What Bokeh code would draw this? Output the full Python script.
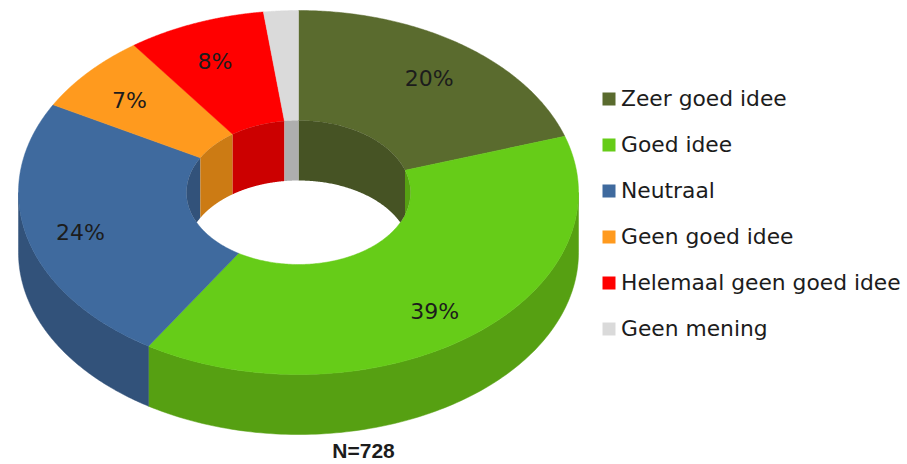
import numpy as np
from bokeh.plotting import figure
from bokeh.embed import file_html
from bokeh.resources import INLINE
from bokeh.core.properties import value
from bokeh.models import ColumnDataSource, Range1d

categories = ["Zeer goed idee", "Goed idee", "Neutraal", "Geen goed idee",
              "Helemaal geen goed idee", "Geen mening"]
shares = [20, 39, 24, 7, 8, 2]
labels = ["20%", "39%", "24%", "7%", "8%", ""]
top_colors = ["#5A6B2E", "#66CC18", "#3F6A9E", "#FF9A1E", "#FF0000", "#DADADA"]
wall_colors = ["#465324", "#56A012", "#32527A", "#CC7B14", "#CC0000", "#AEAEAE"]
footer = "N=728"

W, H = 907, 464
CX, CY = 298, 192          # pie centre
RX, RY = 280, 182          # outer ellipse
IX, IY = 112, 72           # hole ellipse
DEPTH = 60
LABEL_R = 0.80
LABEL_DY = 4
LEG_X, LEG_Y, LEG_STEP = 608.5, 98.5, 46

p = figure(width=W, height=H, output_backend="svg", toolbar_location=None,
           x_range=Range1d(0, W), y_range=Range1d(H, 0), min_border=0,
           outline_line_color=None, background_fill_color="white", border_fill_color="white")
p.axis.visible = False
p.grid.visible = False


def arc(t, rx, ry, dy=0.0):
    r = np.radians(t)
    return CX + rx * np.sin(r), CY - ry * np.cos(r) + dy


edges = np.concatenate([[0], np.cumsum(shares)]) * 360.0 / sum(shares)

# outer wall (front half), then the top faces, then the hole's far wall
wx, wy, wc = [], [], []
for i in range(len(shares)):
    a, b = max(edges[i], 90), min(edges[i + 1], 270)
    if b > a:
        t = np.linspace(a, b, 120)
        x, y = arc(t, RX, RY)
        wx.append(np.r_[x, x[::-1]].tolist())
        wy.append(np.r_[y, (y + DEPTH)[::-1]].tolist())
        wc.append(wall_colors[i])
p.patches(wx, wy, fill_color=wc, line_color=wc, line_width=0.5)

tx, ty, tc = [], [], []
for i in range(len(shares)):
    t = np.linspace(edges[i], edges[i + 1], 160)
    ox, oy = arc(t, RX, RY)
    ix, iy = arc(t, IX, IY)
    tx.append(np.r_[ox, ix[::-1]].tolist())
    ty.append(np.r_[oy, iy[::-1]].tolist())
    tc.append(top_colors[i])
p.patches(tx, ty, fill_color=tc, line_color=tc, line_width=0.5)

hx, hy, hc = [], [], []
for i in range(len(shares)):
    for shift in (0, -360):
        a, b = max(edges[i] + shift, -90), min(edges[i + 1] + shift, 90)
        if b > a:
            t = np.linspace(a, b, 120)
            x, y = arc(t, IX, IY)
            floor = CY + IY * np.sqrt(np.clip(1 - ((x - CX) / IX) ** 2, 0, 1))
            low = np.minimum(y + DEPTH, floor)
            hx.append(np.r_[x, x[::-1]].tolist())
            hy.append(np.r_[y, low[::-1]].tolist())
            hc.append(wall_colors[i])
p.patches(hx, hy, fill_color=hc, line_color=None)

# percentage labels at each slice's mid angle
mid = (edges[:-1] + edges[1:]) / 2
lx, ly = arc(mid, RX * LABEL_R, RY * LABEL_R, LABEL_DY)
p.text(x=(lx - 1).tolist(), y=ly.tolist(), text=labels, text_align="center", text_baseline="middle",
       text_font=value("DejaVu Sans"), text_font_size="22px", text_color="#1c1c1c")

# legend
ys = [LEG_Y + LEG_STEP * i for i in range(len(categories))]
src = ColumnDataSource(dict(x=[LEG_X] * len(ys), y=ys, c=top_colors, t=categories,
                            ty=[v - 1 for v in ys]))
p.rect(x="x", y="y", width=13, height=13, fill_color="c", line_color=None, source=src)
p.text(x=620.5, y="ty", text="t", text_baseline="middle", source=src,
       text_font=value("DejaVu Sans"), text_font_size="21.8px", text_color="#1c1c1c")

p.text(x=[363], y=[450], text=[footer], text_align="center", text_baseline="middle",
       text_font=value("Liberation Sans"), text_font_size="21px", text_font_style="bold",
       text_color="#1c1c1c")

open("out.html", "w").write(file_html(p, INLINE))
